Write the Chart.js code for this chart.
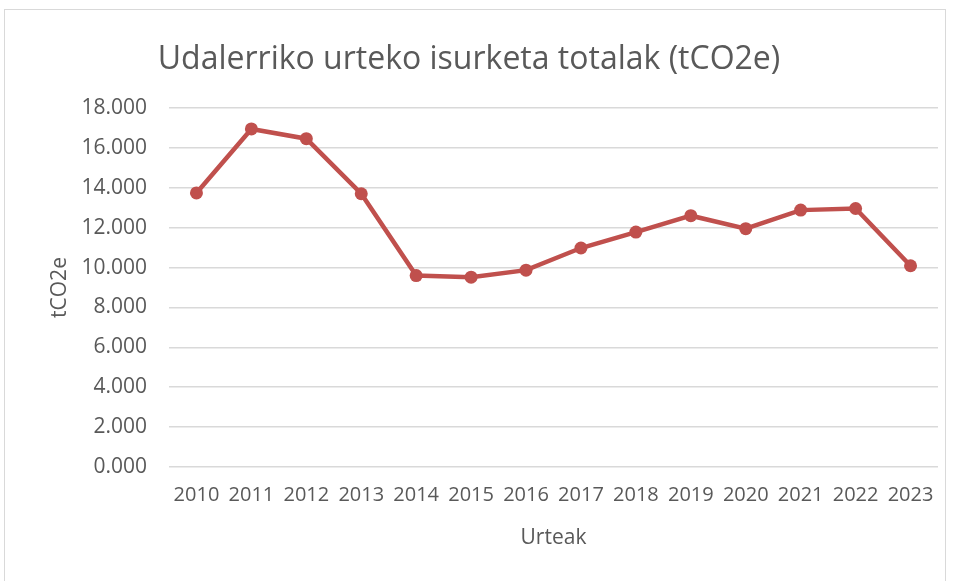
<!DOCTYPE html>
<html lang="eu">
<head>
  <meta charset="UTF-8">
  <title>Udalerriko urteko isurketa totalak</title>
  <script src="https://cdn.jsdelivr.net/npm/chart.js"></script>
  <style>
    html, body { margin: 0; padding: 0; background: #fff; }
    #wrap { position: relative; width: 953px; height: 581px; overflow: hidden; }
    #frame { position: absolute; left: 4px; top: 9px; width: 942px; height: 590px; border: 1px solid #d9d9d9; box-sizing: border-box; }
    #chart { position: absolute; left: 0; top: 0; }
  </style>
</head>
<body>
<div id="wrap">
  <div id="frame"></div>
  <canvas id="chart" width="953" height="581"></canvas>
</div>

<script>
  // data
  const years = ['2010', '2011', '2012', '2013', '2014', '2015', '2016',
                 '2017', '2018', '2019', '2020', '2021', '2022', '2023'];
  const emissions = [13740, 16950, 16460, 13700, 9600, 9520, 9870,
                     10980, 11780, 12600, 11950, 12880, 12960, 10090];
  const yMin = 0, yMax = 18000, yStep = 2000;

  const textColor = '#595959';
  const lineColor = '#c0504d';
  const font = 'Open Sans';

  new Chart(document.getElementById('chart'), {
    type: 'line',
    data: {
      labels: years,
      datasets: [{
        label: 'tCO2e',
        data: emissions,
        borderColor: lineColor,
        backgroundColor: lineColor,
        borderWidth: 4.5,
        pointRadius: 6.5,
        pointBorderWidth: 0,
        pointBackgroundColor: lineColor,
        tension: 0
      }]
    },
    options: {
      responsive: false,
      animation: false,
      layout: { padding: { left: 0, right: 15, top: 0, bottom: 0 } },
      plugins: {
        legend: { display: false },
        tooltip: { enabled: false },
        title: {
          display: true,
          text: 'Udalerriko urteko isurketa totalak (tCO2e)',
          color: textColor,
          font: { family: font, size: 32, weight: 'normal' },
          padding: { top: 41, bottom: 28.6 }
        }
      },
      scales: {
        x: {
          offset: true,
          grid: { display: false, drawTicks: false },
          border: { display: false },
          ticks: {
            color: textColor,
            font: { family: font, size: 20 },
            padding: 16,
            maxRotation: 0,
            autoSkip: false
          },
          title: {
            display: true,
            text: 'Urteak',
            color: textColor,
            font: { family: font, size: 21 },
            padding: { top: 0, bottom: 30 }
          },
          afterFit: s => { s.height = 114; }
        },
        y: {
          min: yMin,
          max: yMax,
          grid: { color: '#d9d9d9', lineWidth: 1.5, drawTicks: false },
          border: { display: false },
          ticks: {
            stepSize: yStep,
            color: textColor,
            font: { family: font, size: 21 },
            padding: 22,
            callback: v => (v / 1000).toFixed(3)
          },
          title: {
            display: true,
            text: 'tCO2e',
            color: textColor,
            font: { family: font, size: 21 },
            padding: { top: 47, bottom: 0 }
          },
          afterFit: s => { s.width = 169; }
        }
      }
    }
  });
</script>
</body>
</html>
